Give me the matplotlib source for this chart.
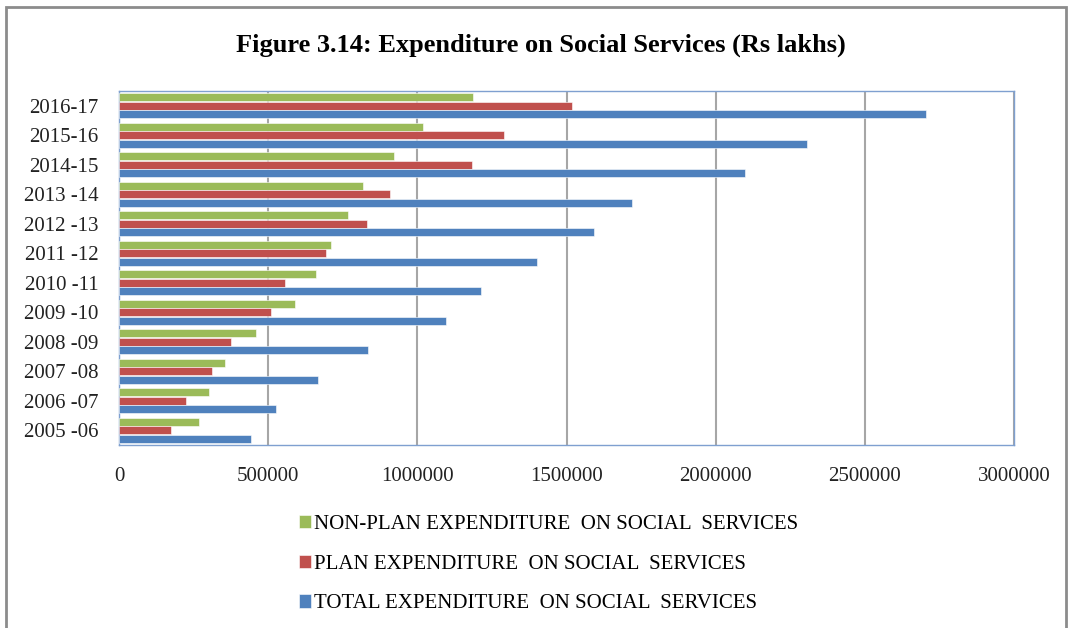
import numpy as np
import matplotlib
matplotlib.use("Agg")
import matplotlib.pyplot as plt
from matplotlib.patches import Rectangle

# Rs lakhs, listed from 2005-06 up to 2016-17
years = ["2005 -06", "2006 -07", "2007 -08", "2008 -09", "2009 -10", "2010 -11",
         "2011 -12", "2012 -13", "2013 -14", "2014-15", "2015-16", "2016-17"]
non_plan = [268000, 302000, 354000, 460000, 590000, 659000,
            711000, 768000, 818000, 922000, 1019000, 1187000]
plan = [173000, 224000, 311000, 374000, 508000, 556000,
        694000, 831000, 908000, 1183000, 1290000, 1518000]
total = [444000, 525000, 666000, 836000, 1096000, 1213000,
         1401000, 1592000, 1720000, 2098000, 2306000, 2705000]

labels = ["NON-PLAN EXPENDITURE  ON SOCIAL  SERVICES",
          "PLAN EXPENDITURE  ON SOCIAL  SERVICES",
          "TOTAL EXPENDITURE  ON SOCIAL  SERVICES"]
colors = ["#9BBB59", "#C0504D", "#4F81BD"]

W, H = 1070, 628
fig = plt.figure(figsize=(W / 100, H / 100), dpi=100)
ax = fig.add_axes([119 / W, 1 - 445 / H, (1014 - 119) / W, (445 - 91) / H])

# outer chart-area border, cut off at the bottom
fig.patches.append(Rectangle((6 / W, -0.05), (1066 - 6) / W, 1 - 7 / H + 0.05,
                             transform=fig.transFigure, fill=False,
                             edgecolor="#8C8C8C", lw=2))

y = np.arange(len(years))
h = 0.28
off = 0.29
bars = []
for vals, dy, c in zip([non_plan, plan, total], [off, 0, -off], colors):
    b = ax.barh(y + dy, vals, height=h, color=c, edgecolor="white",
                linewidth=0.4, zorder=3)
    bars.append(b)

ax.set_xlim(0, 3000000)
ax.set_ylim(-0.5, len(years) - 0.5)
ax.set_xticks(np.arange(0, 3000001, 500000))
ax.set_xticklabels([str(v) for v in range(0, 3000001, 500000)],
                   family="Liberation Serif", fontsize=15, color="#222222")
ax.tick_params(axis="both", length=0)
ax.set_yticks(y)
ax.set_yticklabels(years, family="Liberation Serif", fontsize=15, color="#222222")
ax.tick_params(axis="x", pad=16)
ax.tick_params(axis="y", pad=15)
ax.grid(axis="x", color="#A6A6A6", lw=1.5, zorder=0)
for s in ax.spines.values():
    s.set_color("#7FA0D0")
    s.set_linewidth(1.0)

fig.text(541 / W, 1 - 45 / H, "Figure 3.14: Expenditure on Social Services (Rs lakhs)",
         ha="center", va="center", family="Liberation Serif", fontweight="bold",
         fontsize=19, color="black")

fig.legend(bars, labels, loc="upper left", bbox_to_anchor=(280 / W, 1 - 496 / H),
           frameon=False, ncol=1, handlelength=0.6, handleheight=0.6,
           handletextpad=0.15, labelspacing=1.0,
           prop={"family": "Liberation Serif", "size": 15})

fig.savefig("out.png", dpi=100)
